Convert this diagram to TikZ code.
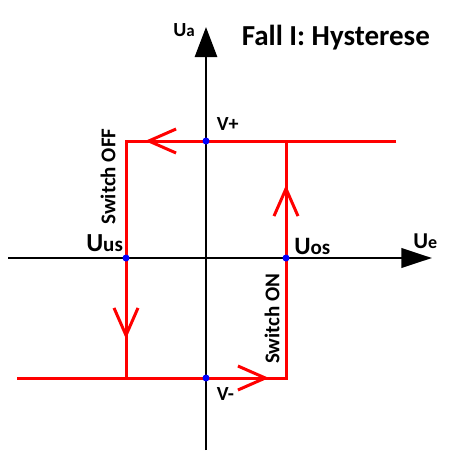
\documentclass[tikz,border=0pt]{standalone}
\usepackage{fontspec}
\setmainfont{Carlito}
\usetikzlibrary{arrows.meta}

\begin{document}
\begin{tikzpicture}[x=0.75pt,y=0.75pt,yscale=-1,xscale=1,
  axis/.style={draw=black,line width=2.1pt},
  redline/.style={draw={rgb, 255:red, 255; green, 0; blue, 0},line width=2.25pt},
  barb/.style={-{Straight Barb[length=20.5pt,width=18pt]}},
  dot/.style={circle,fill={rgb, 255:red, 0; green, 0; blue, 255},inner sep=0pt,minimum size=5.25pt},
  lbl/.style={anchor=base west,inner sep=0pt}]
\path (0,0) rectangle (461,461);

%Coordinates
\coordinate (xS) at (8,258);
\coordinate (xE) at (432,258);
\coordinate (yS) at (206,450);
\coordinate (yE) at (206,27);
\coordinate (topR) at (396,141);
\coordinate (topL) at (126,141);
\coordinate (lcross) at (126,378);
\coordinate (botL) at (17,378);
\coordinate (botR) at (286,378);
\coordinate (rcross) at (286,141);
\coordinate (tipTop) at (145,141);
\coordinate (tipLeft) at (126,339);
\coordinate (tipBot) at (269,378);
\coordinate (tipRight) at (286,185);

%Axes
\draw [axis,-{Triangle[length=23pt,width=14.5pt]}] (xS) -- (xE) ;
\draw [axis,-{Triangle[length=22.5pt,width=16.5pt]}] (yS) -- (yE) ;

%Hysteresis loop
\draw [redline] (topR) -- (topL) -- (lcross) ;
\draw [redline] (botL) -- (botR) -- (rcross) ;
\draw [redline,barb] (topR) -- (tipTop) ;
\draw [redline,barb] (topL) -- (tipLeft) ;
\draw [redline,barb] (botL) -- (tipBot) ;
\draw [redline,barb] (botR) -- (tipRight) ;

%Dots
\node [dot] (vp) at (206,141) {};
\node [dot] (vm) at (206,378) {};
\node [dot] (us) at (126,258) {};
\node [dot] (os) at (286,258) {};

% Text Node
\node [lbl,font={\fontsize{21.75}{24}\bfseries\selectfont}] (title) at (241.5,45) {Fall I: Hysterese};
% Text Node
\node [lbl,font={\fontsize{15}{17}\bfseries\selectfont}] (ua) at (173,36.3) {U{\fontsize{12.75}{14}\selectfont a}};
% Text Node
\node [lbl,font={\fontsize{17}{19}\bfseries\selectfont}] (ue) at (413,248.3) {U{\fontsize{13.5}{15}\selectfont e}};
% Text Node
\node [lbl,font={\fontsize{19.5}{21}\bfseries\selectfont}] (uus) at (86,251.7) {U{\fontsize{15.75}{17}\selectfont us}};
% Text Node
\node [lbl,font={\fontsize{18.75}{21}\bfseries\selectfont}] (uos) at (294,254) {U{\fontsize{15.75}{17}\selectfont os}};
% Text Node
\node [lbl,font={\fontsize{15}{17}\bfseries\selectfont}] (vplus) at (216.5,130) {V+};
% Text Node
\node [lbl,font={\fontsize{15}{17}\bfseries\selectfont}] (vminus) at (216.5,400) {V-};
% Text Node
\node [inner sep=0pt,rotate=90,font={\fontsize{15.75}{18}\bfseries\selectfont}] (off) at (108,176.5) {Switch OFF};
% Text Node
\node [inner sep=0pt,rotate=90,font={\fontsize{15.75}{18}\bfseries\selectfont}] (on) at (272,318.7) {Switch ON};

\end{tikzpicture}
\end{document}
